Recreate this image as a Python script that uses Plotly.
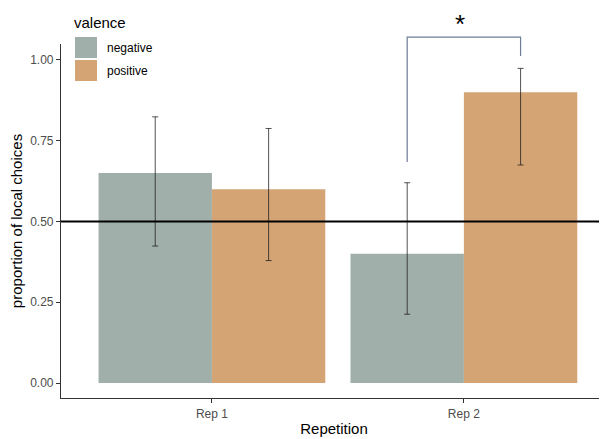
import plotly.graph_objects as go

categories = ["Rep 1", "Rep 2"]
neg_values = [0.65, 0.40]
neg_low = [0.424, 0.213]
neg_high = [0.824, 0.620]
pos_values = [0.60, 0.90]
pos_low = [0.379, 0.675]
pos_high = [0.788, 0.974]
y_ticks = [0.0, 0.25, 0.5, 0.75, 1.0]
reference_line = 0.5
sig_label = "*"

NEG_COLOR = "#A0AFAA"
POS_COLOR = "#D4A474"
FONT = "Liberation Sans, Arial, sans-serif"

# page body has an 8px margin, so the figure is drawn offset by 8px
OFF = 8
W, H = 607 - OFF, 439 - OFF
ML, MR, MT, MB = 61 - OFF, 0, 44 - OFF, 439 - 398
XMIN, XMAX = -0.599, 1.568
YMIN, YMAX = -0.0464, 1.0495


def px_x(px):
    return (px - OFF - ML) / (W - ML - MR)


def px_y(py):
    return (H - MB - (py - OFF)) / (H - MT - MB)


def val_x(v):
    return (v - XMIN) / (XMAX - XMIN)


def val_y(v):
    return (v - YMIN) / (YMAX - YMIN)


err_color = "rgba(25,25,25,0.75)"

fig = go.Figure()
fig.add_trace(go.Bar(
    x=categories, y=neg_values, name="negative",
    marker=dict(color=NEG_COLOR, line=dict(width=0)),
    error_y=dict(type="data",
                 array=[h - v for h, v in zip(neg_high, neg_values)],
                 arrayminus=[v - l for l, v in zip(neg_low, neg_values)],
                 color=err_color, thickness=1, width=3),
))
fig.add_trace(go.Bar(
    x=categories, y=pos_values, name="positive",
    marker=dict(color=POS_COLOR, line=dict(width=0)),
    error_y=dict(type="data",
                 array=[h - v for h, v in zip(pos_high, pos_values)],
                 arrayminus=[v - l for l, v in zip(pos_low, pos_values)],
                 color=err_color, thickness=1, width=3),
))

shapes = []
# reference line
shapes.append(dict(type="line", xref="paper", yref="y", x0=0, x1=1,
                   y0=reference_line, y1=reference_line,
                   line=dict(color="black", width=1.8), layer="above"))

# significance bracket (Rep 2: negative vs positive)
half = 0.225
xl = val_x(1 - half)
xr = val_x(1 + half)
bracket_col = "#6F7C97"
y_left_bottom = val_y(0.684)
y_top = val_y(1.071)
y_right_bottom = val_y(1.012)
shapes.append(dict(type="path", xref="paper", yref="paper",
                   path=f"M {xl},{y_left_bottom} L {xl},{y_top} L {xr},{y_top} L {xr},{y_right_bottom}",
                   line=dict(color=bracket_col, width=1.2), layer="above"))

annotations = [
    dict(text=sig_label, xref="paper", yref="paper", x=px_x(460), y=px_y(8.5),
         showarrow=False, font=dict(family=FONT, size=26, color="black"),
         xanchor="center", yanchor="top", borderpad=0),
]

# manual legend
legend_items = [("negative", NEG_COLOR), ("positive", POS_COLOR)]
annotations.append(dict(text="valence", xref="paper", yref="paper",
                        x=px_x(72), y=px_y(22), showarrow=False,
                        xanchor="left", yanchor="middle",
                        font=dict(family=FONT, size=15, color="black")))
for i, (lab, col) in enumerate(legend_items):
    top = 37 + i * 23
    shapes.append(dict(type="rect", xref="paper", yref="paper",
                       x0=px_x(75), x1=px_x(97), y0=px_y(top), y1=px_y(top + 21),
                       fillcolor=col, line=dict(width=0), layer="above"))
    annotations.append(dict(text=lab, xref="paper", yref="paper",
                            x=px_x(105), y=px_y(top + 11), showarrow=False,
                            xanchor="left", yanchor="middle",
                            font=dict(family=FONT, size=12, color="black")))

fig.update_layout(
    width=W, height=H,
    margin=dict(l=ML, r=MR, t=MT, b=MB),
    paper_bgcolor="white", plot_bgcolor="white",
    barmode="group", bargap=0.1, bargroupgap=0,
    showlegend=False,
    shapes=shapes, annotations=annotations,
    font=dict(family=FONT),
)
fig.update_xaxes(
    range=[XMIN, XMAX], showgrid=False, zeroline=False,
    showline=True, linecolor="#333333", linewidth=1.2,
    ticks="outside", ticklen=4, tickcolor="#333333",
    tickfont=dict(family=FONT, size=12, color="#4d4d4d"),
    title=dict(text="Repetition", font=dict(family=FONT, size=15, color="black"), standoff=3),
    automargin=False,
)
fig.update_yaxes(
    range=[YMIN, YMAX], showgrid=False, zeroline=False,
    showline=True, linecolor="#333333", linewidth=1.2,
    ticks="outside", ticklen=4, tickcolor="#333333",
    tickvals=y_ticks, tickformat=".2f",
    tickfont=dict(family=FONT, size=12, color="#4d4d4d"),
    title=dict(text="proportion of local choices", font=dict(family=FONT, size=15, color="black"), standoff=4),
    automargin=False,
)

fig.write_html("out.html")
